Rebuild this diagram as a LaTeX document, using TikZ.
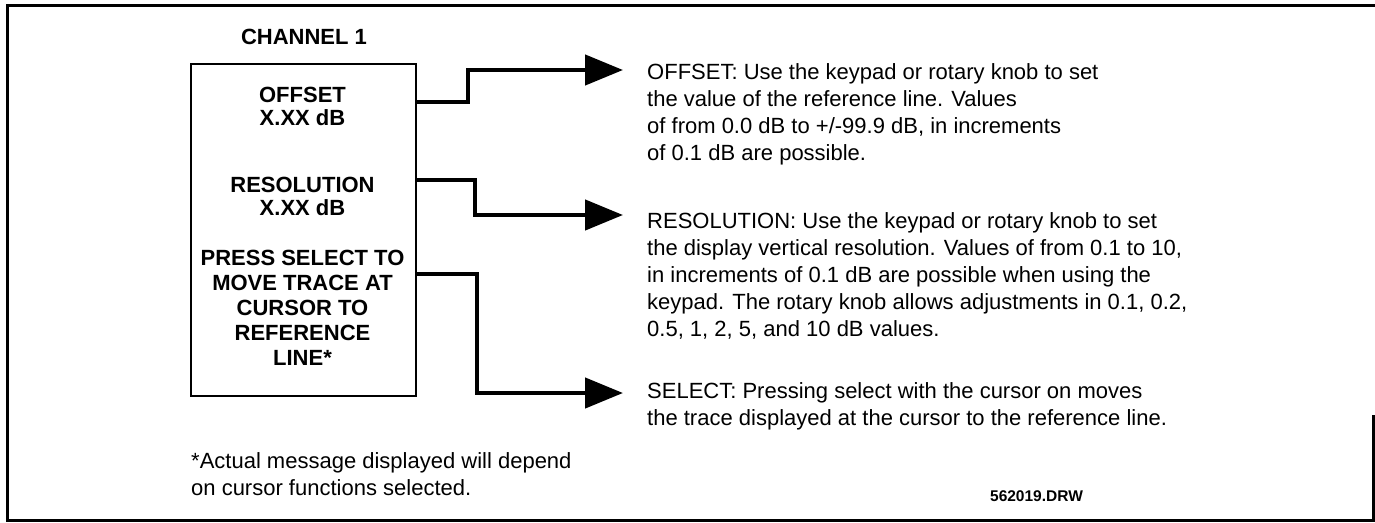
\documentclass[tikz,border=0pt]{standalone}
\usepackage{fontspec}
\setmainfont{Liberation Sans}
\usetikzlibrary{arrows.meta}
\begin{document}
\begin{tikzpicture}[x=1pt,y=-1pt,
  frame/.style={line width=3pt},
  boxline/.style={line width=2pt},
  conn/.style={line width=4.5pt, line join=miter, -{Triangle[length=38pt,width=30pt]}},
  boxtxt/.style={anchor=north, inner sep=0pt, align=center, font=\bfseries\fontsize{22}{23}\selectfont},
  boxtxtb/.style={anchor=north, inner sep=0pt, align=center, font=\bfseries\fontsize{22}{25}\selectfont},
  desc/.style={anchor=north west, inner sep=0pt, align=left, font=\fontsize{22}{27}\selectfont}]
\useasboundingbox (0,0) rectangle (1375,522);
% outer frame
\draw[frame] (1375,5) -- (7,5) -- (7,520) -- (1375,520);
\draw[frame] (1373,415) -- (1373,520);
% title
\node[inner sep=0pt, font=\bfseries\fontsize{22}{27}\selectfont] (title) at (304,37) {CHANNEL 1};
% display box
\node[draw, boxline, minimum width=225pt, minimum height=332pt, inner sep=0pt, anchor=north west] (box) at (190,63) {};
\node[boxtxt] (offtxt) at (302.5,87) {OFFSET\\X.XX dB};
\node[boxtxt] (restxt) at (302.5,177) {RESOLUTION\\X.XX dB};
\node[boxtxtb] (seltxt) at (302.5,250) {PRESS SELECT TO\\MOVE TRACE AT\\CURSOR TO\\REFERENCE\\LINE*};
% descriptions
\node[desc] (offdesc) at (647,63) {OFFSET: Use the keypad or rotary knob to set\\the value of the reference line. Values\\of from 0.0 dB to +/-99.9 dB, in increments\\of 0.1 dB are possible.};
\node[desc] (resdesc) at (647,212) {RESOLUTION: Use the keypad or rotary knob to set\\the display vertical resolution. Values of from 0.1 to 10,\\in increments of 0.1 dB are possible when using the\\keypad. The rotary knob allows adjustments in 0.1, 0.2,\\0.5, 1, 2, 5, and 10 dB values.};
\node[desc] (seldesc) at (647,382) {SELECT: Pressing select with the cursor on moves\\the trace displayed at the cursor to the reference line.};
\node[desc] (note) at (191,452) {*Actual message displayed will depend\\on cursor functions selected.};
\node[inner sep=0pt, font=\bfseries\fontsize{15.5}{18}\selectfont] (drw) at (1036.5,496) {562019.DRW};
% arrow tips
\coordinate (offtip) at (623,70);
\coordinate (restip) at (623,215);
\coordinate (seltip) at (623,393);
% connectors
\draw[conn] (box.east |- 0,102) -- (468,102) -- (468,70) -- (offtip);
\draw[conn] (box.east |- 0,180) -- (475,180) -- (475,215) -- (restip);
\draw[conn] (box.east |- 0,274) -- (477,274) -- (477,393) -- (seltip);
\end{tikzpicture}
\end{document}
